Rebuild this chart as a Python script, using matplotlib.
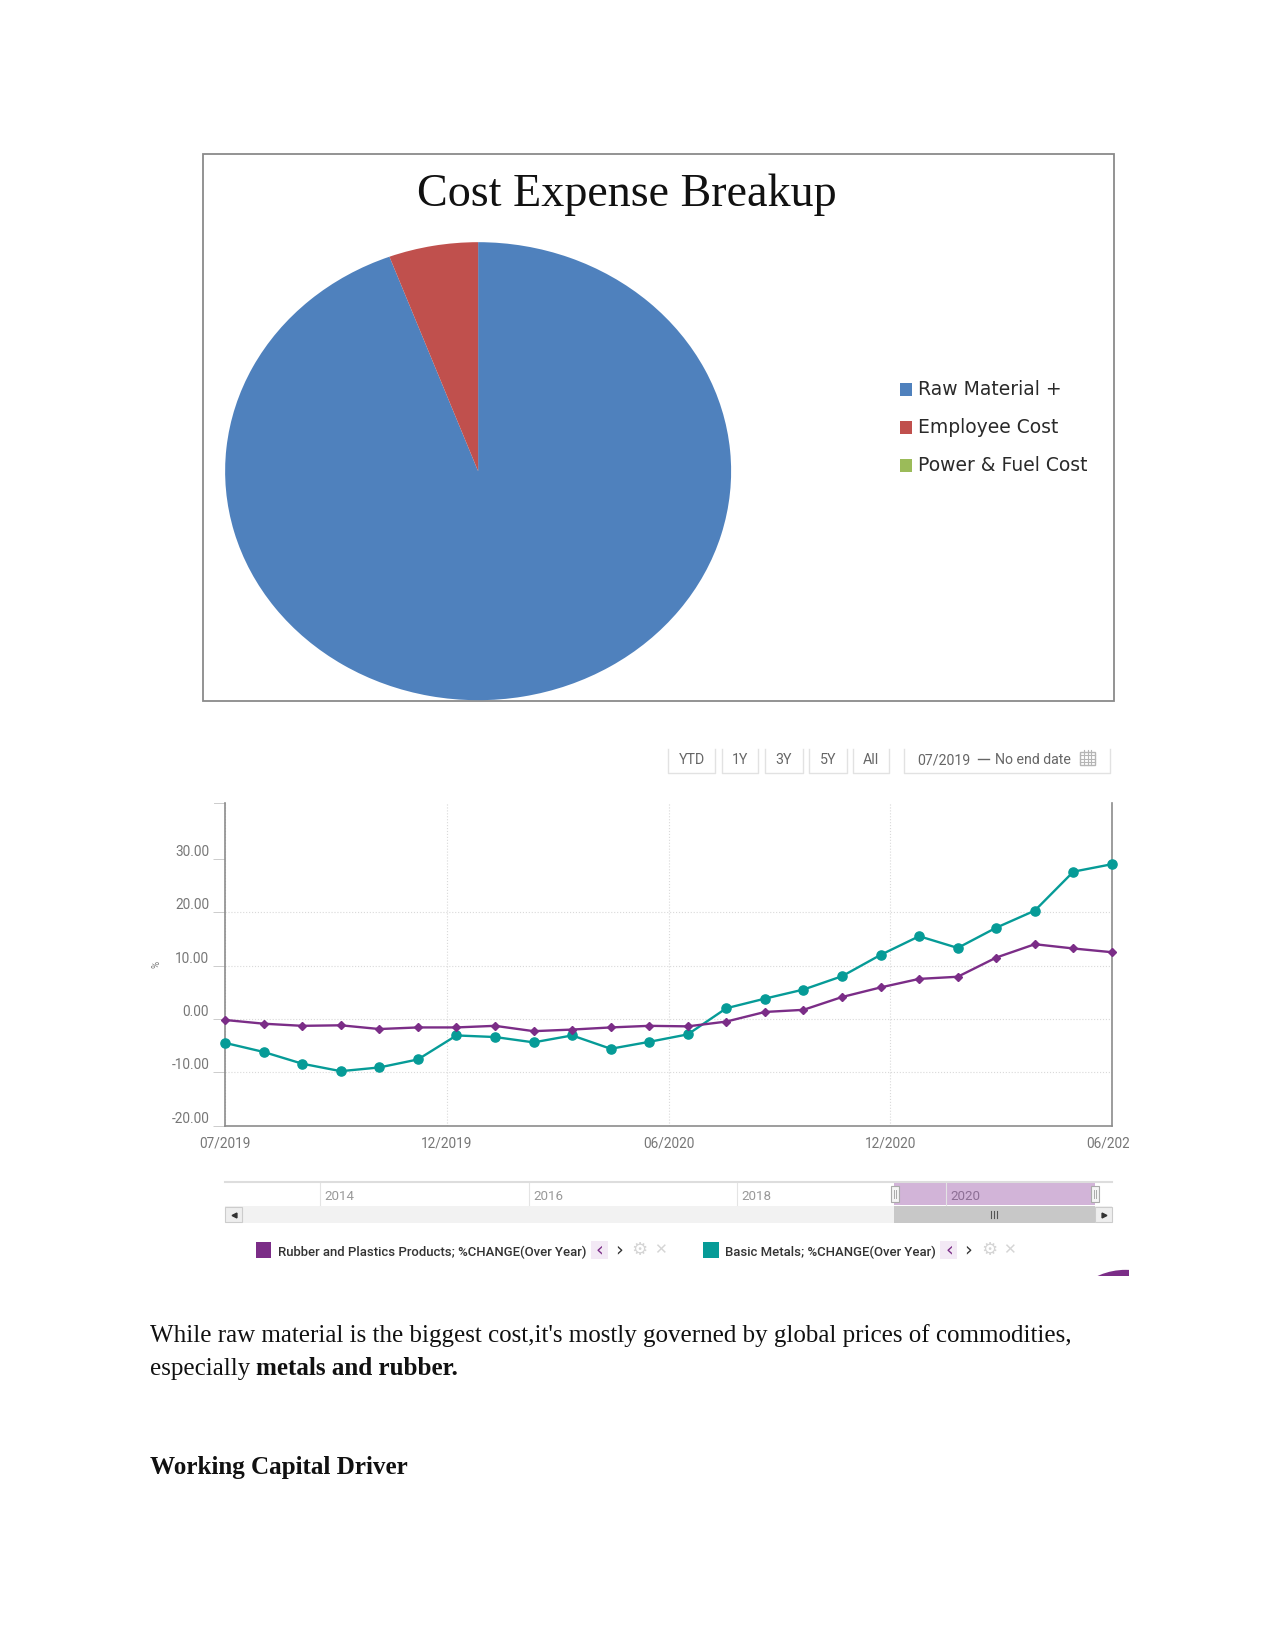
import numpy as np
import matplotlib
matplotlib.use("Agg")
import matplotlib.pyplot as plt
from matplotlib.patches import Rectangle, Circle

# pie data
cost_labels = ["Raw Material +", "Employee Cost", "Power & Fuel Cost"]
cost_values = [94.3, 5.7, 0.0]
cost_colors = ["#4F81BD", "#C0504D", "#9BBB59"]

# line chart data, one point per month
rubber = [-0.2, -0.9, -1.3, -1.2, -1.9, -1.6, -1.6, -1.3, -2.3, -2.0, -1.6, -1.3,
          -1.4, -0.5, 1.3, 1.7, 4.1, 5.9, 7.5, 7.9, 11.5, 14.0, 13.2, 12.5]
metals = [-4.5, -6.2, -8.4, -9.8, -9.1, -7.6, -3.1, -3.4, -4.4, -3.1, -5.6, -4.3,
          -2.9, 2.0, 3.8, 5.5, 8.0, 12.0, 15.5, 13.3, 17.1, 20.3, 27.6, 29.0]
date_labels = ["07/2019", "12/2019", "06/2020", "12/2020", "06/2021"]
y_ticks = [-20, -10, 0, 10, 20, 30]
range_buttons = ["YTD", "1Y", "3Y", "5Y", "All"]
nav_years = ["2014", "2016", "2018", "2020"]

PURPLE = "#7B2D87"
TEAL = "#069B97"
GREY = "#777777"

# layout numbers are page positions on a 1212 x 1568 grid
W, H = 1212, 1568
fig = plt.figure(figsize=(12.75, 16.51), dpi=100)


def box(x0, y0, x1, y1, **kw):
    return fig.add_axes([x0 / W, 1 - y1 / H, (x1 - x0) / W, (y1 - y0) / H], **kw)


page = box(0, 0, W, H)
page.set_xlim(0, W)
page.set_ylim(H, 0)
page.axis("off")

# top chart
page.add_patch(Rectangle((193, 146), 866, 520, fc="white", ec="#8a8a8a", lw=1.3))
page.text(595.5, 185, "Cost Expense Breakup", family="Liberation Serif", fontsize=33.2,
          ha="center", va="center", color="#111111")

ax_pie = box(214, 230, 695, 665)
ax_pie.pie(cost_values, colors=cost_colors, startangle=90, counterclock=False, radius=1)
ax_pie.set_aspect("auto")
ax_pie.set_xlim(-1, 1)
ax_pie.set_ylim(-1, 1)
ax_pie.patch.set_alpha(0)

for name, col, y in zip(cost_labels, cost_colors, [370, 406, 442]):
    page.add_patch(Rectangle((856, y - 6), 11, 12, fc=col, ec="none"))
    page.text(873, y, name, family="DejaVu Sans", fontsize=13.5, va="center", color="#2a2a2a")

# range buttons
btn_x = [(635, 680), (686, 721), (727, 763), (769, 805), (811, 845)]
for name, (x0, x1) in zip(range_buttons, btn_x):
    page.plot([x0, x0, x1, x1], [711, 734, 734, 711], color="#e2e2e2", lw=1)
    page.text((x0 + x1) / 2, 722, name, family="Roboto", fontsize=10.2, ha="center",
              va="center", color="#666666")
page.plot([859, 859, 1055, 1055], [711, 734, 734, 711], color="#e2e2e2", lw=1)
page.text(872, 722, "07/2019", family="Roboto", fontsize=10.2, va="center", color="#666666")
page.plot([930, 940], [720.5, 720.5], color="#666666", lw=1)
page.text(946, 722, "No end date", family="Roboto", fontsize=10.2, va="center", color="#666666")
# calendar icon
page.add_patch(Rectangle((1027, 714), 14, 13, fc="none", ec="#b5b5b5", lw=1))
for gx in [1030.5, 1034, 1037.5]:
    page.plot([gx, gx], [712, 727], color="#b5b5b5", lw=0.8)
for gy in [717, 720.5, 724]:
    page.plot([1027, 1041], [gy, gy], color="#b5b5b5", lw=0.8)

# line chart
ax = box(214, 763, 1057, 1069)
x = np.arange(len(rubber))
ax.plot(x, metals, color=TEAL, lw=1.7, marker="o", ms=6.6, clip_on=False, zorder=3)
ax.plot(x, rubber, color=PURPLE, lw=1.7, marker="D", ms=3.8, clip_on=False, zorder=4)
ax.set_xlim(0, len(rubber) - 1)
ax.set_ylim(-20, 40.4)
ax.set_yticks(y_ticks)
ax.set_yticklabels(["%.2f" % v for v in y_ticks], family="Roboto", fontsize=9.8, color=GREY,
                   va="bottom")
ax.set_xticks(np.linspace(0, len(rubber) - 1, len(date_labels)))
ax.set_xticklabels(date_labels, family="Roboto", fontsize=9.8, color=GREY)
ax.grid(True, color="#d9d9d9", ls=":", lw=0.8)
ax.set_axisbelow(True)
# no dotted line at the two outer y ticks
for tick in [ax.yaxis.get_major_ticks()[0], ax.yaxis.get_major_ticks()[-1]]:
    tick.gridline.set_visible(False)
ax.tick_params(axis="y", length=8.5, width=0.7, color="#cccccc", pad=3)
ax.tick_params(axis="x", length=0, pad=7.5)
ax.spines["top"].set_visible(False)
for side in ["left", "right", "bottom"]:
    ax.spines[side].set_color("#8c8c8c")
    ax.spines[side].set_linewidth(1.2)
ax.patch.set_alpha(0)
ax.set_ylabel("%", family="Roboto", fontsize=7, color=GREY, labelpad=7)
page_clip = Rectangle((0, 0), 1073, H, transform=page.transData)
for lab in ax.get_xticklabels():
    lab.set_clip_path(page_clip)
    lab.set_clip_on(True)
ax.plot([-0.3, 0], [40.4, 40.4], color="#cccccc", lw=0.7, clip_on=False)

# navigator under the chart
page.plot([214, 1057], [1123, 1123], color="#dddddd", lw=1.5)
page.add_patch(Rectangle((850, 1123), 191, 21, fc="#D2B4D8", ec="none"))
for name, nx in zip(nav_years, [304, 503, 701, 899]):
    page.plot([nx, nx], [1124, 1144], color="#e4e4e4", lw=0.8)
    page.text(nx + 4, 1136, name, family="Roboto", fontsize=9.6, va="center",
              color="#8d6f95" if name == "2020" else "#999999")
page.add_patch(Rectangle((214, 1145), 843, 16.5, fc="#f2f2f2", ec="none"))
page.add_patch(Rectangle((850, 1145), 191, 16.5, fc="#c8c8c8", ec="none"))
page.add_patch(Rectangle((214, 1146), 16, 15, fc="#eeeeee", ec="#cccccc", lw=0.8))
page.add_patch(Rectangle((1041, 1146), 16, 15, fc="#eeeeee", ec="#cccccc", lw=0.8))
page.plot([222], [1153.5], marker="<", ms=3.5, color="#333333")
page.plot([1049], [1153.5], marker=">", ms=3.5, color="#333333")
for gx in [942, 945, 948]:
    page.plot([gx, gx], [1150, 1156.5], color="#555555", lw=0.8)
for hx in [851, 1041]:
    page.add_patch(Rectangle((hx - 4, 1126), 8, 16, fc="#f5f5f5", ec="#aaaaaa", lw=0.8))
    page.plot([hx - 1, hx - 1], [1130, 1138], color="#aaaaaa", lw=0.7)
    page.plot([hx + 1, hx + 1], [1130, 1138], color="#aaaaaa", lw=0.7)

# series legend row
legend_rows = [("Rubber and Plastics Products; %CHANGE(Over Year)", PURPLE, 243, 264, 570),
               ("Basic Metals; %CHANGE(Over Year)", TEAL, 668, 689, 902)]
for name, col, sx, tx, cx in legend_rows:
    page.add_patch(Rectangle((sx, 1180), 15, 15, fc=col, ec="none"))
    page.text(tx, 1189, name, family="Roboto", fontsize=9.45, weight="medium", va="center",
              color="#333333")
    page.add_patch(Rectangle((cx - 8, 1179), 16, 17, fc="#F3E9F5", ec="none"))
    page.text(cx, 1187, "‹", family="DejaVu Sans", fontsize=14, ha="center", va="center", color=PURPLE)
    page.text(cx + 18, 1187, "›", family="DejaVu Sans", fontsize=14, ha="center", va="center", color="#333333")
    page.text(cx + 38, 1187, "⚙", family="DejaVu Sans", fontsize=13, ha="center", va="center", color="#d5d5d5")
    page.text(cx + 58, 1187, "✕", family="DejaVu Sans", fontsize=11, ha="center", va="center", color="#d5d5d5")

# bit of a round purple badge cut off at the corner of the screenshot
badge = Circle((1070, 1270), 64, fc=PURPLE, ec="none")
page.add_patch(badge)
badge.set_clip_path(Rectangle((1000, 1190), 73, 22, transform=page.transData))

# text below the charts
serif = dict(family="Liberation Serif", fontsize=18.0, color="#111111", va="baseline")
bold = dict(serif, fontsize=18.1, weight="bold")
page.text(142.5, 1275, "While raw material is the biggest cost,it's mostly governed by global "
          "prices of commodities,", **serif)
first = page.text(142.5, 1306, "especially ", **serif)
page.annotate("metals and rubber.", xy=(1, 1306), xycoords=(first, "data"), **bold)
page.text(142.5, 1400, "Working Capital Driver", **bold)

fig.savefig("out.png", dpi=100)
